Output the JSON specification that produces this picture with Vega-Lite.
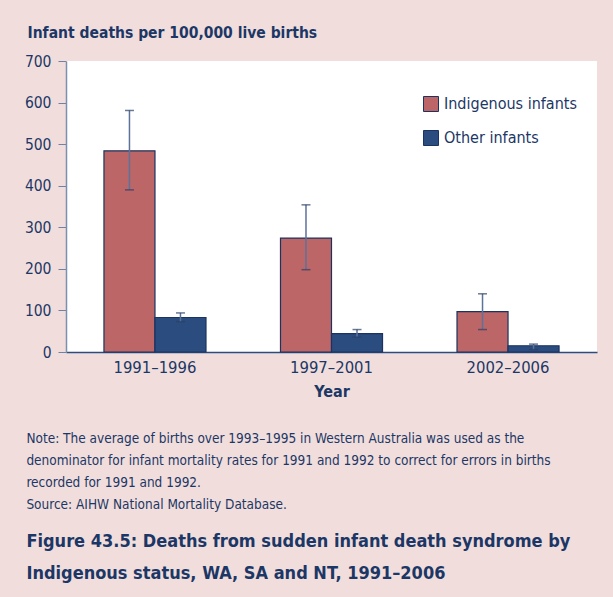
{
  "$schema": "https://vega.github.io/schema/vega-lite/v6.json",
  "width": 531,
  "height": 291,
  "autosize": {"type": "none"},
  "padding": {"left": 66, "top": 61, "right": 16, "bottom": 245},
  "background": "#f1dedc",
  "config": {
    "font": "DejaVu Sans Condensed, Liberation Sans Narrow, sans-serif",
    "view": {"fill": "white", "stroke": null}
  },
  "title": {
    "text": [
      "Note: The average of births over 1993–1995 in Western Australia was used as the",
      "denominator for infant mortality rates for 1991 and 1992 to correct for errors in births",
      "recorded for 1991 and 1992.",
      "Source: AIHW National Mortality Database."
    ],
    "subtitle": [
      "Figure 43.5: Deaths from sudden infant death syndrome by",
      "Indigenous status, WA, SA and NT, 1991–2006"
    ],
    "orient": "bottom",
    "anchor": "start",
    "frame": "bounds",
    "offset": 32,
    "dx": 2,
    "fontSize": 13.5,
    "fontWeight": "normal",
    "color": "#1c3766",
    "lineHeight": 22,
    "subtitleFontSize": 18,
    "subtitleFontWeight": "bold",
    "subtitleColor": "#1c3766",
    "subtitleLineHeight": 32,
    "subtitlePadding": 22
  },
  "data": {
    "values": [
      {"period": "1991–1996", "group": "Indigenous infants", "value": 484, "lo": 390, "hi": 581},
      {"period": "1991–1996", "group": "Other infants", "value": 83, "lo": 73, "hi": 94},
      {"period": "1997–2001", "group": "Indigenous infants", "value": 274, "lo": 198, "hi": 354},
      {"period": "1997–2001", "group": "Other infants", "value": 44, "lo": 36, "hi": 54},
      {"period": "2002–2006", "group": "Indigenous infants", "value": 97, "lo": 54, "hi": 140},
      {"period": "2002–2006", "group": "Other infants", "value": 15, "lo": 6, "hi": 19}
    ]
  },
  "encoding": {
    "x": {
      "field": "period",
      "type": "nominal",
      "scale": {"paddingInner": 0.422, "paddingOuter": 0.215},
      "axis": {
        "title": "Year",
        "labelAngle": 0,
        "labelFontSize": 16.5,
        "labelColor": "#1c3766",
        "labelPadding": 7,
        "ticks": false,
        "domainColor": "#2b4c7e",
        "domainWidth": 1.5,
        "titleFontSize": 16,
        "titleFontWeight": "bold",
        "titleColor": "#1c3766",
        "titlePadding": 8
      }
    },
    "xOffset": {"field": "group", "type": "nominal", "scale": {"paddingInner": 0, "paddingOuter": 0}}
  },
  "layer": [
    {
      "mark": {"type": "bar", "stroke": "#1a3360", "strokeWidth": 1.2},
      "encoding": {
        "y": {
          "field": "value",
          "type": "quantitative",
          "scale": {"domain": [0, 700]},
          "axis": {
            "title": "Infant deaths per 100,000 live births",
            "titleAngle": 0,
            "titleAlign": "left",
            "titleBaseline": "alphabetic",
            "titleX": -39,
            "titleY": -24,
            "titleFontSize": 15.5,
            "titleFontWeight": "bold",
            "titleColor": "#1c3766",
            "values": [0, 100, 200, 300, 400, 500, 600, 700],
            "grid": false,
            "tickSize": 8,
            "tickColor": "#6f82a6",
            "domainColor": "#7d8fae",
            "domainWidth": 1.5,
            "labelFontSize": 15.5,
            "labelColor": "#1c3766",
            "labelPadding": 7
          }
        },
        "color": {
          "field": "group",
          "type": "nominal",
          "scale": {"domain": ["Indigenous infants", "Other infants"], "range": ["#bc6667", "#2b4c7e"]},
          "legend": {
            "title": null,
            "orient": "none",
            "legendX": 357,
            "legendY": 35,
            "symbolType": "square",
            "symbolSize": 225,
            "symbolStrokeColor": "#1a3360",
            "symbolStrokeWidth": 1,
            "symbolOpacity": 1,
            "labelFontSize": 16,
            "labelColor": "#1c3766",
            "labelOffset": 5,
            "rowPadding": 14
          }
        }
      }
    },
    {
      "mark": {"type": "rule", "color": "#5d7299", "strokeWidth": 1.5},
      "encoding": {
        "y": {"field": "lo", "type": "quantitative"},
        "y2": {"field": "hi"}
      }
    },
    {
      "mark": {"type": "tick", "color": "#2b4066", "thickness": 1.5, "size": 9},
      "encoding": {"y": {"field": "lo", "type": "quantitative"}}
    },
    {
      "mark": {"type": "tick", "color": "#2b4066", "thickness": 1.5, "size": 9},
      "encoding": {"y": {"field": "hi", "type": "quantitative"}}
    }
  ]
}
